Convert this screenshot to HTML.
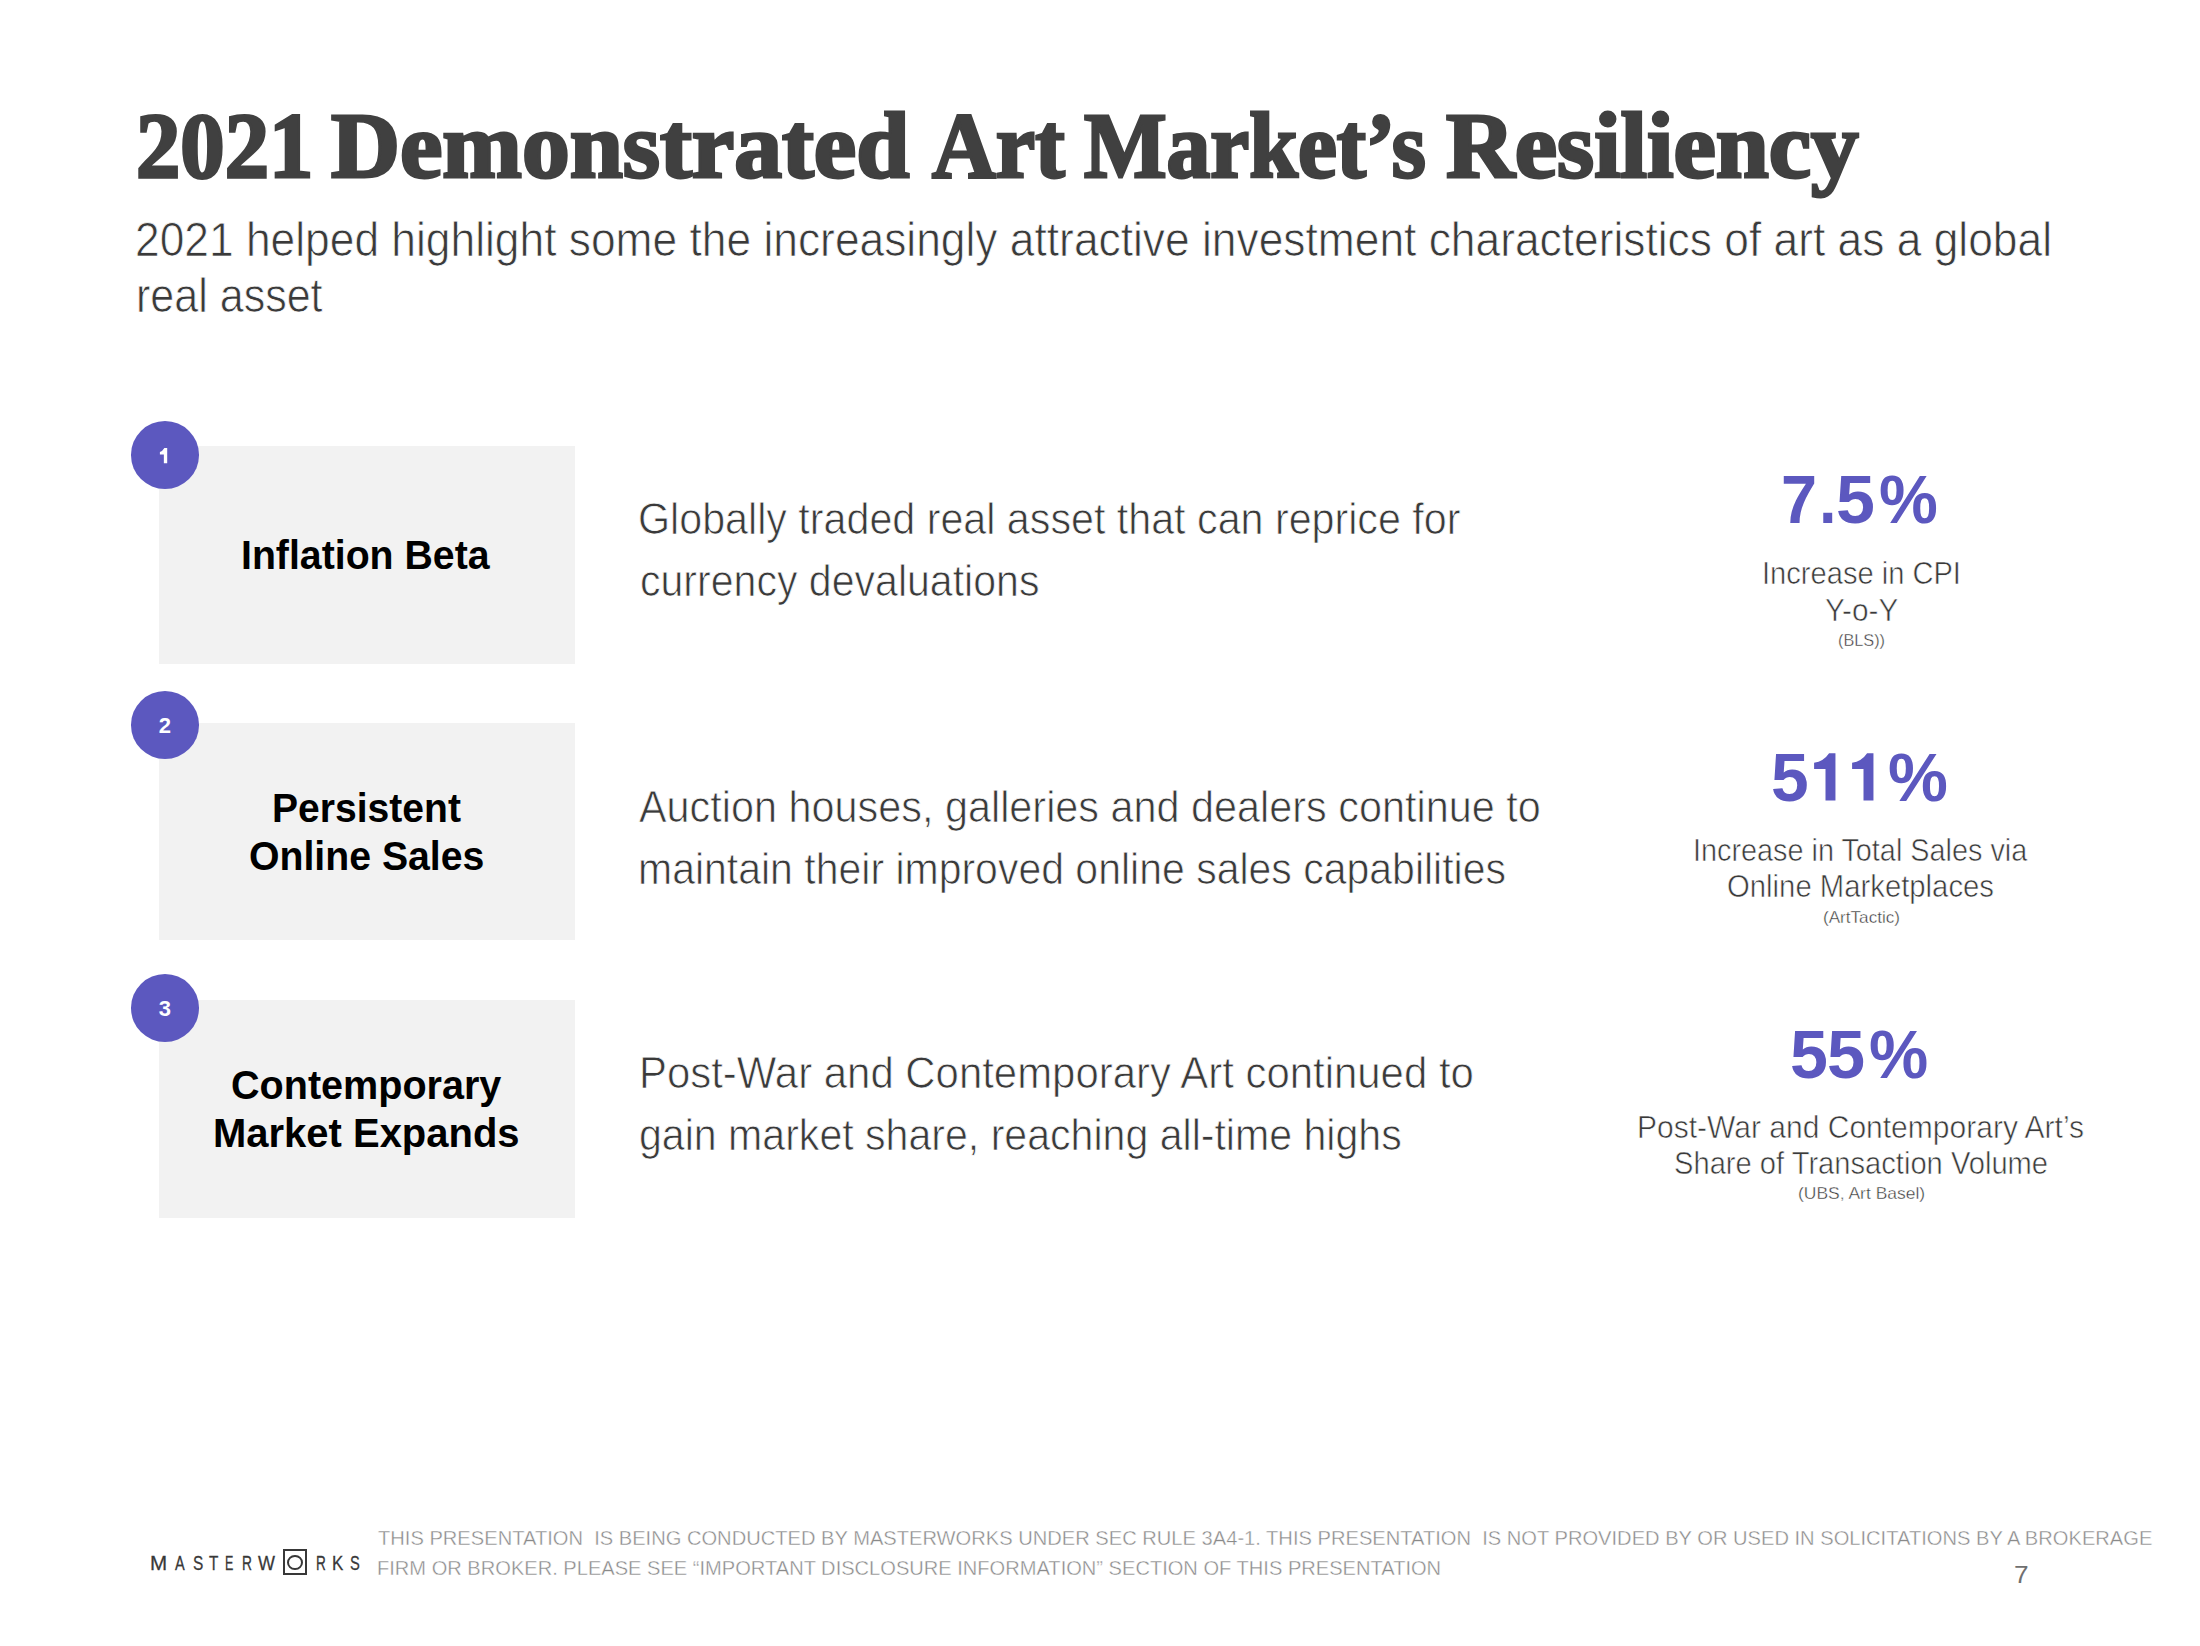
<!DOCTYPE html>
<html><head><meta charset="utf-8">
<style>
html,body{margin:0;padding:0;background:#fff;}
body{width:2200px;height:1646px;position:relative;overflow:hidden;font-family:"Liberation Sans",sans-serif;}
.ln{position:absolute;white-space:nowrap;transform-origin:0 0;}
.box{position:absolute;left:159px;width:416px;background:#f2f2f2;}
.circ{position:absolute;left:130.5px;width:68.5px;height:68px;border-radius:50%;background:#5c58bf;color:#fff;font-weight:bold;font-size:22px;line-height:69px;text-align:center;}
.lg{position:absolute;font-size:19px;line-height:19px;color:#333;}
</style></head><body>
<div class="box" style="top:446px;height:218px"></div>
<div class="circ" style="top:421px"></div>
<div class="box" style="top:723px;height:217px"></div>
<div class="circ" style="top:691px">2</div>
<div class="box" style="top:1000px;height:218px"></div>
<div class="circ" style="top:974px">3</div>
<svg id="ones" style="position:absolute;left:0;top:0" width="2200" height="1646" viewBox="0 0 2200 1646"><path fill="#fff" d="M167.2,448 L164.4,448 Q162.6,451 159.9,452.1 L159.9,454.6 L163.85,454.6 L163.85,463.2 L167.2,463.2 Z"/><g fill="#5c58bf"><path d="M1835.45,753.2 L1829.1,753.2 Q1823.6,761.4 1814.1,762.7 L1814.1,769.1 L1825.5,769.1 L1825.5,800.4 L1835.45,800.4 Z"/><path transform="translate(38,0)" d="M1835.45,753.2 L1829.1,753.2 Q1823.6,761.4 1814.1,762.7 L1814.1,769.1 L1825.5,769.1 L1825.5,800.4 L1835.45,800.4 Z"/></g></svg>
<div class="ln" id="title0" style="left:136.12px;top:98.63px;font-family:'Liberation Serif', serif;font-weight:bold;font-size:93px;line-height:93px;color:#404040;transform:scaleX(0.95325);-webkit-text-stroke:3px #404040;">2021</div>
<div class="ln" id="title1" style="left:330.80px;top:98.63px;font-family:'Liberation Serif', serif;font-weight:bold;font-size:93px;line-height:93px;color:#404040;transform:scaleX(1.02702);-webkit-text-stroke:3px #404040;">Demonstrated</div>
<div class="ln" id="title2" style="left:931.71px;top:98.63px;font-family:'Liberation Serif', serif;font-weight:bold;font-size:93px;line-height:93px;color:#404040;transform:scaleX(0.95102);-webkit-text-stroke:3px #404040;">Art</div>
<div class="ln" id="title3" style="left:1084.00px;top:98.63px;font-family:'Liberation Serif', serif;font-weight:bold;font-size:93px;line-height:93px;color:#404040;transform:scaleX(0.94112);-webkit-text-stroke:3px #404040;">Market’s</div>
<div class="ln" id="title4" style="left:1446.00px;top:98.63px;font-family:'Liberation Serif', serif;font-weight:bold;font-size:93px;line-height:93px;color:#404040;transform:scaleX(1.02432);-webkit-text-stroke:3px #404040;">Resiliency</div>
<div class="ln" id="sub1" style="left:135.15px;top:216.49px;font-family:'Liberation Sans', sans-serif;font-weight:normal;font-size:47.5px;line-height:47.5px;color:#3a3a3a;transform:scaleX(0.93323);-webkit-text-stroke:0.75px #fff;">2021 helped highlight some the increasingly attractive investment characteristics of art as a global</div>
<div class="ln" id="sub2" style="left:136.23px;top:272.19px;font-family:'Liberation Sans', sans-serif;font-weight:normal;font-size:47.5px;line-height:47.5px;color:#3a3a3a;transform:scaleX(0.90588);-webkit-text-stroke:0.75px #fff;">real asset</div>
<div class="ln" id="lab1" style="left:241.44px;top:534.84px;font-family:'Liberation Sans', sans-serif;font-weight:bold;font-size:40px;line-height:40px;color:#000;transform:scaleX(0.98102);">Inflation Beta</div>
<div class="ln" id="lab2a" style="left:272.44px;top:788.14px;font-family:'Liberation Sans', sans-serif;font-weight:bold;font-size:40px;line-height:40px;color:#000;transform:scaleX(0.97674);">Persistent</div>
<div class="ln" id="lab2b" style="left:249.42px;top:836.14px;font-family:'Liberation Sans', sans-serif;font-weight:bold;font-size:40px;line-height:40px;color:#000;transform:scaleX(0.98035);">Online Sales</div>
<div class="ln" id="lab3a" style="left:231.41px;top:1064.84px;font-family:'Liberation Sans', sans-serif;font-weight:bold;font-size:40px;line-height:40px;color:#000;transform:scaleX(0.98901);">Contemporary</div>
<div class="ln" id="lab3b" style="left:213.41px;top:1112.84px;font-family:'Liberation Sans', sans-serif;font-weight:bold;font-size:40px;line-height:40px;color:#000;transform:scaleX(0.99939);">Market Expands</div>
<div class="ln" id="d1a" style="left:638.49px;top:496.52px;font-family:'Liberation Sans', sans-serif;font-weight:normal;font-size:43.8px;line-height:43.8px;color:#3a3a3a;transform:scaleX(0.94108);-webkit-text-stroke:0.75px #fff;">Globally traded real asset that can reprice for</div>
<div class="ln" id="d1b" style="left:640.10px;top:558.52px;font-family:'Liberation Sans', sans-serif;font-weight:normal;font-size:43.8px;line-height:43.8px;color:#3a3a3a;transform:scaleX(0.93752);-webkit-text-stroke:0.75px #fff;">currency devaluations</div>
<div class="ln" id="d2a" style="left:639.04px;top:784.92px;font-family:'Liberation Sans', sans-serif;font-weight:normal;font-size:43.8px;line-height:43.8px;color:#3a3a3a;transform:scaleX(0.94479);-webkit-text-stroke:0.75px #fff;">Auction houses, galleries and dealers continue to</div>
<div class="ln" id="d2b" style="left:638.17px;top:846.62px;font-family:'Liberation Sans', sans-serif;font-weight:normal;font-size:43.8px;line-height:43.8px;color:#3a3a3a;transform:scaleX(0.93581);-webkit-text-stroke:0.75px #fff;">maintain their improved online sales capabilities</div>
<div class="ln" id="d3a" style="left:638.76px;top:1050.62px;font-family:'Liberation Sans', sans-serif;font-weight:normal;font-size:43.8px;line-height:43.8px;color:#3a3a3a;transform:scaleX(0.95705);-webkit-text-stroke:0.75px #fff;">Post-War and Contemporary Art continued to</div>
<div class="ln" id="d3b" style="left:639.13px;top:1112.92px;font-family:'Liberation Sans', sans-serif;font-weight:normal;font-size:43.8px;line-height:43.8px;color:#3a3a3a;transform:scaleX(0.93805);-webkit-text-stroke:0.75px #fff;">gain market share, reaching all-time highs</div>
<div class="ln" id="s1g0" style="left:1781.33px;top:464.86px;font-family:'Liberation Sans', sans-serif;font-weight:bold;font-size:68px;line-height:68px;color:#5c58bf;transform:scaleX(0.95277);">7</div>
<div class="ln" id="s1g1" style="left:1818.93px;top:464.86px;font-family:'Liberation Sans', sans-serif;font-weight:bold;font-size:68px;line-height:68px;color:#5c58bf;transform:scaleX(0.92755);">.</div>
<div class="ln" id="s1g2" style="left:1836.34px;top:464.86px;font-family:'Liberation Sans', sans-serif;font-weight:bold;font-size:68px;line-height:68px;color:#5c58bf;transform:scaleX(1.02941);">5</div>
<div class="ln" id="s1g3" style="left:1879.03px;top:464.86px;font-family:'Liberation Sans', sans-serif;font-weight:bold;font-size:68px;line-height:68px;color:#5c58bf;transform:scaleX(0.97281);">%</div>
<div class="ln" id="s1c1" style="left:1762.19px;top:556.91px;font-family:'Liberation Sans', sans-serif;font-weight:normal;font-size:32px;line-height:32px;color:#3a3a3a;transform:scaleX(0.90946);-webkit-text-stroke:0.6px #fff;">Increase in CPI</div>
<div class="ln" id="s1c2" style="left:1825.00px;top:593.66px;font-family:'Liberation Sans', sans-serif;font-weight:normal;font-size:32px;line-height:32px;color:#3a3a3a;transform:scaleX(0.93013);-webkit-text-stroke:0.6px #fff;">Y-o-Y</div>
<div class="ln" id="s1src" style="left:1837.98px;top:632.03px;font-family:'Liberation Sans', sans-serif;font-weight:normal;font-size:16.5px;line-height:16.5px;color:#3a3a3a;transform:scaleX(0.98685);-webkit-text-stroke:0.35px #fff;">(BLS))</div>
<div class="ln" id="s2g0" style="left:1771.41px;top:742.90px;font-family:'Liberation Sans', sans-serif;font-weight:bold;font-size:68px;line-height:68px;color:#5c58bf;transform:scaleX(0.99576);">5</div>
<div class="ln" id="s2g3" style="left:1888.01px;top:742.90px;font-family:'Liberation Sans', sans-serif;font-weight:bold;font-size:68px;line-height:68px;color:#5c58bf;transform:scaleX(0.99019);">%</div>
<div class="ln" id="s2c1" style="left:1693.05px;top:833.81px;font-family:'Liberation Sans', sans-serif;font-weight:normal;font-size:32px;line-height:32px;color:#3a3a3a;transform:scaleX(0.90046);-webkit-text-stroke:0.6px #fff;">Increase in Total Sales via</div>
<div class="ln" id="s2c2" style="left:1727.49px;top:870.21px;font-family:'Liberation Sans', sans-serif;font-weight:normal;font-size:32px;line-height:32px;color:#3a3a3a;transform:scaleX(0.91535);-webkit-text-stroke:0.6px #fff;">Online Marketplaces</div>
<div class="ln" id="s2src" style="left:1822.77px;top:908.73px;font-family:'Liberation Sans', sans-serif;font-weight:normal;font-size:16.5px;line-height:16.5px;color:#3a3a3a;transform:scaleX(1.03689);-webkit-text-stroke:0.35px #fff;">(ArtTactic)</div>
<div class="ln" id="s3g0" style="left:1790.00px;top:1019.90px;font-family:'Liberation Sans', sans-serif;font-weight:bold;font-size:68px;line-height:68px;color:#5c58bf;transform:scaleX(1.00189);">5</div>
<div class="ln" id="s3g1" style="left:1826.88px;top:1019.90px;font-family:'Liberation Sans', sans-serif;font-weight:bold;font-size:68px;line-height:68px;color:#5c58bf;transform:scaleX(1.00649);">5</div>
<div class="ln" id="s3g2" style="left:1869.23px;top:1019.90px;font-family:'Liberation Sans', sans-serif;font-weight:bold;font-size:68px;line-height:68px;color:#5c58bf;transform:scaleX(0.97959);">%</div>
<div class="ln" id="s3c1" style="left:1637.32px;top:1110.51px;font-family:'Liberation Sans', sans-serif;font-weight:normal;font-size:32px;line-height:32px;color:#3a3a3a;transform:scaleX(0.93798);-webkit-text-stroke:0.6px #fff;">Post-War and Contemporary Art’s</div>
<div class="ln" id="s3c2" style="left:1674.30px;top:1146.91px;font-family:'Liberation Sans', sans-serif;font-weight:normal;font-size:32px;line-height:32px;color:#3a3a3a;transform:scaleX(0.91032);-webkit-text-stroke:0.6px #fff;">Share of Transaction Volume</div>
<div class="ln" id="s3src" style="left:1797.95px;top:1185.43px;font-family:'Liberation Sans', sans-serif;font-weight:normal;font-size:16.5px;line-height:16.5px;color:#3a3a3a;transform:scaleX(1.05833);-webkit-text-stroke:0.35px #fff;">(UBS, Art Basel)</div>
<div class="ln" id="foot1" style="left:378.00px;top:1526.92px;font-family:'Liberation Sans', sans-serif;font-weight:normal;font-size:21px;line-height:21px;color:#8a8a8a;transform:scaleX(0.95813);-webkit-text-stroke:0.4px #fff;">THIS PRESENTATION&nbsp; IS BEING CONDUCTED BY MASTERWORKS UNDER SEC RULE 3A4-1. THIS PRESENTATION&nbsp; IS NOT PROVIDED BY OR USED IN SOLICITATIONS BY A BROKERAGE</div>
<div class="ln" id="foot2" style="left:377.04px;top:1556.92px;font-family:'Liberation Sans', sans-serif;font-weight:normal;font-size:21px;line-height:21px;color:#8a8a8a;transform:scaleX(0.95630);-webkit-text-stroke:0.4px #fff;">FIRM OR BROKER. PLEASE SEE “IMPORTANT DISCLOSURE INFORMATION” SECTION OF THIS PRESENTATION</div>
<div class="ln" id="lg0" style="left:150.43px;top:1552.02px;font-family:'Liberation Sans', sans-serif;font-weight:normal;font-size:21px;line-height:21px;color:#383838;transform:scaleX(0.97956);-webkit-text-stroke:0.3px #383838;">M</div>
<div class="ln" id="lg1" style="left:174.89px;top:1552.02px;font-family:'Liberation Sans', sans-serif;font-weight:normal;font-size:21px;line-height:21px;color:#383838;transform:scaleX(0.69108);-webkit-text-stroke:0.3px #383838;">A</div>
<div class="ln" id="lg2" style="left:192.62px;top:1552.02px;font-family:'Liberation Sans', sans-serif;font-weight:normal;font-size:21px;line-height:21px;color:#383838;transform:scaleX(0.73202);-webkit-text-stroke:0.3px #383838;">S</div>
<div class="ln" id="lg3" style="left:209.26px;top:1552.02px;font-family:'Liberation Sans', sans-serif;font-weight:normal;font-size:21px;line-height:21px;color:#383838;transform:scaleX(0.72775);-webkit-text-stroke:0.3px #383838;">T</div>
<div class="ln" id="lg4" style="left:224.71px;top:1552.02px;font-family:'Liberation Sans', sans-serif;font-weight:normal;font-size:21px;line-height:21px;color:#383838;transform:scaleX(0.59335);-webkit-text-stroke:0.3px #383838;">E</div>
<div class="ln" id="lg5" style="left:241.63px;top:1552.02px;font-family:'Liberation Sans', sans-serif;font-weight:normal;font-size:21px;line-height:21px;color:#383838;transform:scaleX(0.65498);-webkit-text-stroke:0.3px #383838;">R</div>
<div class="ln" id="lg6" style="left:258.16px;top:1552.02px;font-family:'Liberation Sans', sans-serif;font-weight:normal;font-size:21px;line-height:21px;color:#383838;transform:scaleX(0.85532);-webkit-text-stroke:0.3px #383838;">W</div>
<div class="ln" id="lg7" style="left:315.55px;top:1552.02px;font-family:'Liberation Sans', sans-serif;font-weight:normal;font-size:21px;line-height:21px;color:#383838;transform:scaleX(0.64637);-webkit-text-stroke:0.3px #383838;">R</div>
<div class="ln" id="lg8" style="left:332.19px;top:1552.02px;font-family:'Liberation Sans', sans-serif;font-weight:normal;font-size:21px;line-height:21px;color:#383838;transform:scaleX(0.80522);-webkit-text-stroke:0.3px #383838;">K</div>
<div class="ln" id="lg9" style="left:350.23px;top:1552.02px;font-family:'Liberation Sans', sans-serif;font-weight:normal;font-size:21px;line-height:21px;color:#383838;transform:scaleX(0.69942);-webkit-text-stroke:0.3px #383838;">S</div>
<div class="ln" id="pg" style="left:2013.92px;top:1563.28px;font-family:'Liberation Sans', sans-serif;font-weight:normal;font-size:24px;line-height:24px;color:#707070;transform:scaleX(1.09391);">7</div>
<div id="logo" style="position:absolute;left:283px;top:1549px;width:24px;height:26px;box-sizing:border-box;border:2px solid #383838;border-top-width:2.5px;"><div style="position:absolute;left:2.2px;top:3.5px;width:15.5px;height:15px;box-sizing:border-box;border:2.3px solid #383838;border-radius:50%;"></div></div>
</body></html>
